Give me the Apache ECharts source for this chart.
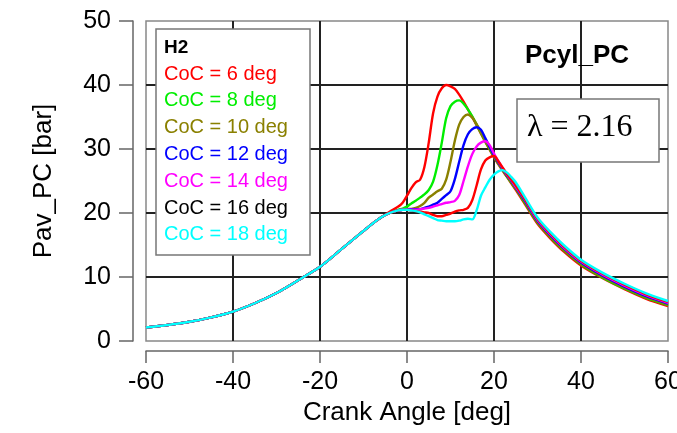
<!DOCTYPE html>
<html>
<head>
<meta charset="utf-8">
<script src="https://cdn.jsdelivr.net/npm/echarts@6/dist/echarts.min.js"></script>
<style>
html,body{margin:0;padding:0;background:#fff;}
#chart{width:677px;height:433px;}
</style>
</head>
<body>
<div id="chart"></div>
<script>
// Crank angles (deg): shared compression part, then combustion/expansion part
const compressionAngles = [-60,-55,-50,-45,-40,-35,-30,-25,-20,-15,-10,-8,-6];
const compression = [2.1,2.5,3.0,3.7,4.6,5.9,7.5,9.5,11.6,14.4,17.2,18.3,19.3];

const combustionAngles = [-4,-2,-1,0,1,2,3,4,5,6,7,8,9,10,11,12,13,14,15,16,17,18,19,20,21,22,23,24,25,27,30,33,36,40,45,50,55,60];

const coc6  = [20.2,21.0,21.6,22.7,23.9,24.8,25.2,27.2,31.0,35.6,38.2,39.5,40.0,39.8,39.4,38.5,37.4,36.2,35.0,33.7,32.4,31.1,29.9,28.7,27.6,26.6,25.6,24.6,23.6,21.5,18.3,16.0,14.0,11.8,9.8,8.1,6.6,5.45];
const coc8  = [20.0,20.5,20.7,21.0,21.5,21.9,22.4,22.9,23.6,24.9,27.5,31.0,34.8,36.7,37.4,37.6,37.1,36.2,35.1,33.8,32.5,31.2,30.0,28.8,27.7,26.7,25.7,24.7,23.8,21.7,18.5,16.2,14.2,12.0,9.9,8.2,6.75,5.6];
const coc10 = [20.0,20.4,20.5,20.6,20.65,20.8,21.1,21.6,22.4,22.9,23.4,23.8,25.2,28.0,31.3,33.8,35.0,35.4,34.9,33.9,32.6,31.3,30.1,28.9,27.8,26.8,25.8,24.8,23.9,21.9,18.6,16.3,14.3,12.1,10.0,8.35,6.85,5.7];
const coc12 = [20.0,20.4,20.5,20.6,20.6,20.6,20.6,20.8,21.0,21.3,21.6,22.2,22.8,23.4,25.3,28.0,30.6,32.3,33.1,33.4,33.0,31.7,30.3,29.0,27.9,26.9,25.9,25.0,24.0,22.0,18.8,16.5,14.5,12.25,10.2,8.5,7.0,5.85];
const coc14 = [20.0,20.4,20.5,20.5,20.5,20.5,20.6,20.7,20.8,21.0,21.2,21.4,21.6,21.7,21.9,22.8,25.0,27.3,29.2,30.4,31.0,31.2,30.6,29.3,28.1,27.0,26.0,25.1,24.1,22.2,18.95,16.65,14.65,12.4,10.35,8.65,7.15,5.95];
const coc16 = [20.0,20.4,20.5,20.5,20.4,20.3,20.2,20.1,20.0,19.7,19.5,19.5,19.7,19.9,20.2,20.4,20.5,20.8,22.0,24.3,26.8,28.2,28.7,28.9,28.1,27.1,26.1,25.2,24.3,22.3,19.1,16.8,14.8,12.55,10.5,8.8,7.3,6.1];
const coc18 = [20.0,20.4,20.5,20.5,20.4,20.3,20.1,19.8,19.5,19.2,18.9,18.8,18.7,18.7,18.7,18.8,19.0,19.1,19.0,20.4,22.7,24.0,25.2,26.0,26.5,26.7,26.3,25.6,24.8,22.6,19.3,17.0,15.0,12.7,10.65,8.95,7.45,6.25];

const seriesNames = ['CoC = 6 deg','CoC = 8 deg','CoC = 10 deg','CoC = 12 deg','CoC = 14 deg','CoC = 16 deg','CoC = 18 deg'];
const seriesValues = [coc6, coc8, coc10, coc12, coc14, coc16, coc18];
const lineColors = ['#ff0000','#00ee00','#8a8000','#0000ff','#ff00ff','#ff0000','#00ffff'];
const legendColors = ['#ff0000','#00ee00','#8a8000','#0000ff','#ff00ff','#000000','#00ffff'];
const xTicks = [-60,-40,-20,0,20,40,60];
const yTicks = [0,10,20,30,40,50];

const angles = compressionAngles.concat(combustionAngles);

const series = seriesValues.map((vals, k) => {
  const ys = compression.concat(vals);
  return {
    type: 'line',
    name: seriesNames[k],
    data: angles.map((a, i) => [a, ys[i]]),
    showSymbol: false,
    smooth: 0.3,
    lineStyle: { color: lineColors[k], width: 2.4 },
    z: 3 + k,
    silent: true,
    animation: false
  };
});

const F = 'Arial, "Liberation Sans", Helvetica, sans-serif';
const legendGraphics = [
  { type: 'rect', shape: { x: 156, y: 29, width: 154, height: 226 },
    style: { fill: '#fff', stroke: '#777', lineWidth: 1.5 }, z: 100 },
  { type: 'text', left: 164, top: 38, z: 101,
    style: { text: 'H2', fill: '#000', font: 'bold 19px ' + F } }
];
seriesNames.forEach((n, k) => {
  legendGraphics.push({ type: 'text', left: 164, top: 64 + k * 26.8, z: 101,
    style: { text: n, fill: legendColors[k], font: '20px ' + F } });
});

const chart = echarts.init(document.getElementById('chart'), null, { renderer: 'canvas' });
chart.setOption({
  animation: false,
  backgroundColor: '#fff',
  grid: { left: 146, right: 9, top: 21, bottom: 92, show: true, borderColor: '#888', borderWidth: 1.5,
    backgroundColor: 'transparent', containLabel: false, outerBoundsMode: 'none' },
  xAxis: {
    type: 'value', min: -60, max: 60, interval: 20, offset: 10,
    name: 'Crank Angle [deg]', nameLocation: 'middle', nameGap: 48,
    nameTextStyle: { fontSize: 26, color: '#000', fontFamily: F },
    axisLine: { onZero: false, lineStyle: { color: '#666', width: 1.5 } },
    axisTick: { length: 12, lineStyle: { color: '#666', width: 1.5 } },
    axisLabel: { fontSize: 25, color: '#000', margin: 19, fontFamily: F,
      customValues: xTicks },
    splitLine: { show: true, showMinLine: false, showMaxLine: false, lineStyle: { color: '#222', width: 2 } }
  },
  yAxis: {
    type: 'value', min: 0, max: 50, interval: 10, offset: 13,
    name: 'Pav_PC [bar]', nameLocation: 'middle', nameGap: 76, nameRotate: 90,
    nameTextStyle: { fontSize: 26, color: '#000', fontFamily: F },
    axisLine: { show: true, onZero: false, lineStyle: { color: '#666', width: 1.5 } },
    axisTick: { show: true, length: 14, lineStyle: { color: '#666', width: 1.5 } },
    axisLabel: { fontSize: 25, color: '#000', margin: 22, fontFamily: F },
    splitLine: { show: true, showMinLine: false, showMaxLine: false, lineStyle: { color: '#222', width: 2 } }
  },
  graphic: legendGraphics.concat([
    { type: 'text', left: 525, top: 43, z: 101,
      style: { text: 'Pcyl_PC', fill: '#000', font: 'bold 26px ' + F } },
    { type: 'rect', shape: { x: 517, y: 99, width: 142, height: 63 },
      style: { fill: '#fff', stroke: '#777', lineWidth: 1.5 }, z: 100 },
    { type: 'text', left: 527, top: 112, z: 101,
      style: { text: 'λ = 2.16', fill: '#000', font: '32px "Liberation Serif", "Times New Roman", serif' } }
  ]),
  series: series
});
</script>
</body>
</html>
